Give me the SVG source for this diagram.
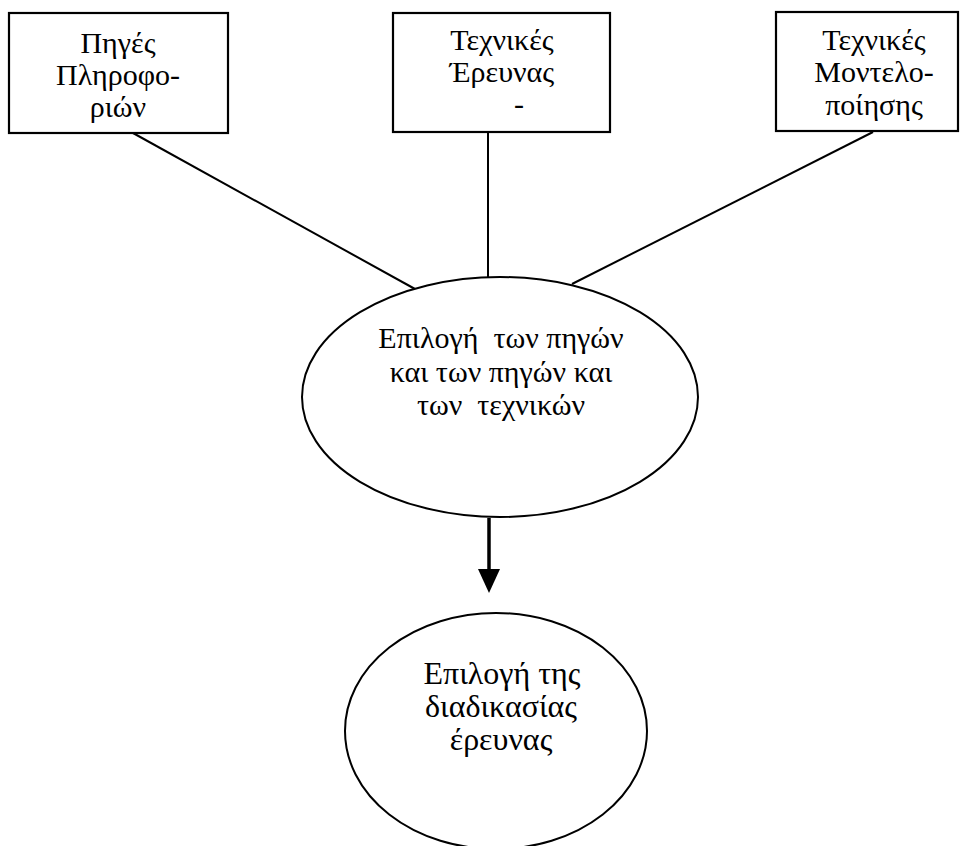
<svg xmlns="http://www.w3.org/2000/svg" width="962" height="846" viewBox="0 0 962 846">
<style>
  .box{fill:#fff;stroke:#000;stroke-width:2.2}
  .ell{fill:#fff;stroke:#000;stroke-width:2}
  .t{font-family:"Liberation Serif","DejaVu Serif",serif;font-size:30px;fill:#000;text-anchor:middle;white-space:pre}
  .t2{font-size:32px}
  .ln{stroke:#000;stroke-width:2;fill:none}
</style>
<rect width="962" height="846" fill="#fff"/>
<g id="connectors">
  <line class="ln" x1="133" y1="133" x2="415" y2="289"/>
  <line class="ln" x1="488" y1="132" x2="488" y2="278"/>
  <line class="ln" x1="873" y1="132" x2="572" y2="284"/>
  <line x1="489" y1="518" x2="489" y2="570" stroke="#000" stroke-width="3.5"/>
  <path d="M478,569 L500,569 L489,593 Z" fill="#000"/>
</g>
<g id="node-piges">
  <rect class="box" x="9" y="13" width="219" height="120"/>
  <text class="t" x="118" y="53">Πηγές</text>
  <text class="t" x="118" y="85">Πληροφο-</text>
  <text class="t" x="118" y="117">ριών</text>
</g>
<g id="node-techn-erevnas">
  <rect class="box" x="393" y="13" width="217" height="119"/>
  <text class="t" x="502" y="50">Τεχνικές</text>
  <text class="t" x="502" y="82">Έρευνας</text>
  <text class="t" x="519" y="114">-</text>
</g>
<g id="node-techn-montelo">
  <rect class="box" x="776" y="12" width="182" height="119"/>
  <text class="t" x="874" y="50">Τεχνικές</text>
  <text class="t" x="874" y="82">Μοντελο-</text>
  <text class="t" x="874" y="115">ποίησης</text>
</g>
<g id="node-epilogi-pigon">
  <ellipse class="ell" cx="500" cy="397" rx="198" ry="120"/>
  <text class="t" x="501" y="348">Επιλογή  των πηγών</text>
  <text class="t" x="501" y="382">και των πηγών και</text>
  <text class="t" x="501" y="415">των  τεχνικών</text>
</g>
<g id="node-epilogi-diadikasias">
  <ellipse class="ell" cx="496" cy="731" rx="151" ry="118"/>
  <text class="t t2" x="502" y="684">Επιλογή της</text>
  <text class="t t2" x="501" y="717">διαδικασίας</text>
  <text class="t t2" x="501" y="750">έρευνας</text>
</g>
</svg>
